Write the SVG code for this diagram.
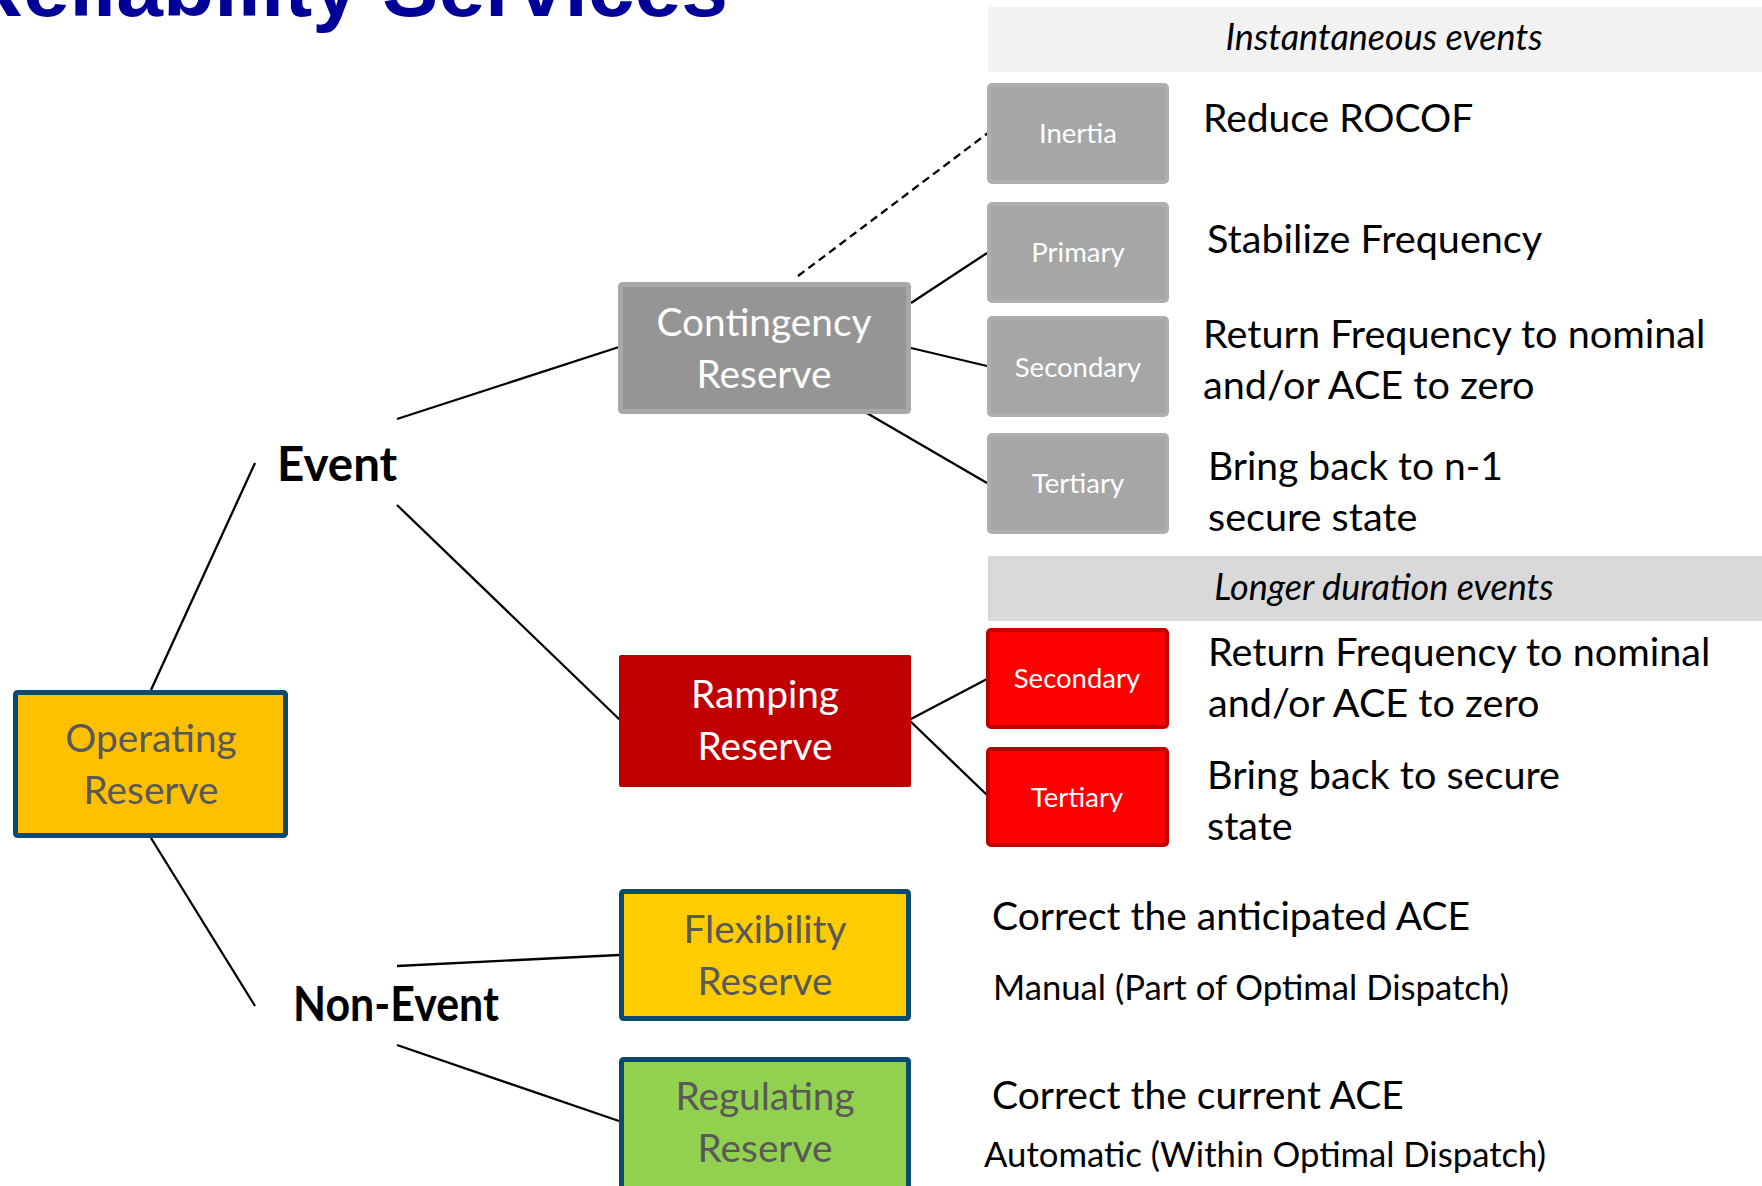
<svg xmlns="http://www.w3.org/2000/svg" width="1762" height="1186" viewBox="0 0 1762 1186">
<style>
.t{font-family:Lato,"Liberation Sans",sans-serif}
.title{font-family:"Liberation Sans",Arial,sans-serif;font-weight:bold;font-size:84px;fill:#000099}
.hdr{font-size:36px;font-style:italic;fill:#000;text-anchor:middle}
.desc{font-size:39.6px;fill:#000}
.desc2{font-size:39px;fill:#000}
.sub{font-size:34.7px;fill:#000}
.big{font-size:38.8px;text-anchor:middle}
.small{font-size:27.5px;fill:#fff;text-anchor:middle}
.lbl{font-size:47.5px;font-weight:bold;fill:#000}
.gbox{fill:#a6a6a6;stroke:#aeaeae;stroke-width:4}
.rbox{fill:#ff0000;stroke:#c00000;stroke-width:4}
.blue{stroke:#0b4a6f;stroke-width:5}
.con line{stroke:#000;stroke-width:2.3;fill:none}
</style>
<rect width="1762" height="1186" fill="#fff"/>
<text class="title" x="728" y="16" text-anchor="end">Reliability Services</text>

<g id="hdr-instant">
<rect x="988" y="7" width="774" height="65" fill="#f2f2f2"/>
<text class="t hdr" x="1384" y="50">Instantaneous events</text>
</g>
<g id="hdr-longer">
<rect x="988" y="556" width="774" height="65" fill="#d9d9d9"/>
<text class="t hdr" x="1384" y="600">Longer duration events</text>
</g>

<g class="con" id="connectors">
<line x1="151" y1="690" x2="255" y2="463"/>
<line x1="151" y1="838" x2="255" y2="1006"/>
<line x1="397" y1="419" x2="619" y2="347"/>
<line x1="397" y1="505" x2="620" y2="720"/>
<line x1="397" y1="966" x2="619" y2="955"/>
<line x1="397" y1="1045" x2="619" y2="1121"/>
<line x1="798" y1="276" x2="988" y2="133" stroke-dasharray="8 5"/>
<line x1="911" y1="303" x2="987" y2="253"/>
<line x1="911" y1="348" x2="987" y2="366"/>
<line x1="865" y1="412" x2="987" y2="483"/>
<line x1="909" y1="720" x2="987" y2="679"/>
<line x1="909" y1="720" x2="987" y2="795"/>
</g>

<g id="operating">
<rect class="blue" x="15.5" y="692.5" width="270" height="143" fill="#ffc000" rx="2"/>
<text class="t big" x="151" y="752" fill="#595959">Operating</text>
<text class="t big" x="151" y="804" fill="#595959">Reserve</text>
</g>

<g id="event"><text class="t lbl" x="277" y="481">Event</text></g>
<g id="nonevent"><text class="t lbl" x="293" y="1021" textLength="206" lengthAdjust="spacingAndGlyphs">Non-Event</text></g>

<g id="contingency">
<rect x="620.5" y="284.5" width="288" height="127" fill="#959595" stroke="#a8a8a8" stroke-width="5" rx="2"/>
<text class="t big" x="764" y="336" fill="#fff">Contingency</text>
<text class="t big" x="764" y="388" fill="#fff">Reserve</text>
</g>

<g id="ramping">
<rect x="619" y="655" width="292" height="132" fill="#c00000" rx="2"/>
<text class="t big" x="765" y="708" fill="#fff">Ramping</text>
<text class="t big" x="765" y="760" fill="#fff">Reserve</text>
</g>

<g id="flexibility">
<rect class="blue" x="621.5" y="891.5" width="287" height="127" fill="#ffcc00" rx="2"/>
<text class="t big" x="765" y="943" fill="#595959">Flexibility</text>
<text class="t big" x="765" y="995" fill="#595959">Reserve</text>
</g>

<g id="regulating">
<rect class="blue" x="621.5" y="1059.5" width="287" height="140" fill="#92d050" rx="2"/>
<text class="t big" x="765" y="1110" fill="#595959">Regulating</text>
<text class="t big" x="765" y="1162" fill="#595959">Reserve</text>
</g>

<g id="inertia">
<rect class="gbox" x="989" y="85" width="178" height="97" rx="3"/>
<text class="t small" x="1078" y="143">Inertia</text>
</g>
<g id="primary">
<rect class="gbox" x="989" y="204" width="178" height="97" rx="3"/>
<text class="t small" x="1078" y="262">Primary</text>
</g>
<g id="secondary-g">
<rect class="gbox" x="989" y="318" width="178" height="97" rx="3"/>
<text class="t small" x="1078" y="377">Secondary</text>
</g>
<g id="tertiary-g">
<rect class="gbox" x="989" y="435" width="178" height="97" rx="3"/>
<text class="t small" x="1078" y="493">Tertiary</text>
</g>
<g id="secondary-r">
<rect class="rbox" x="988" y="630" width="179" height="97" rx="3"/>
<text class="t small" x="1077" y="688">Secondary</text>
</g>
<g id="tertiary-r">
<rect class="rbox" x="988" y="749" width="179" height="96" rx="3"/>
<text class="t small" x="1077" y="807">Tertiary</text>
</g>

<g id="descriptions">
<text class="t desc2" x="1203" y="132">Reduce ROCOF</text>
<text class="t desc" x="1207" y="253">Stabilize Frequency</text>
<text class="t desc" x="1203" y="348">Return Frequency to nominal</text>
<text class="t desc" x="1203" y="399">and/or ACE to zero</text>
<text class="t desc2" x="1208" y="480">Bring back to n-1</text>
<text class="t desc" x="1208" y="531">secure state</text>
<text class="t desc" x="1208" y="666">Return Frequency to nominal</text>
<text class="t desc" x="1208" y="717">and/or ACE to zero</text>
<text class="t desc" x="1207" y="789">Bring back to secure</text>
<text class="t desc" x="1207" y="840">state</text>
<text class="t desc2" x="992" y="930">Correct the anticipated ACE</text>
<text class="t sub" x="993" y="1000">Manual (Part of Optimal Dispatch)</text>
<text class="t desc2" x="992" y="1109">Correct the current ACE</text>
<text class="t sub" x="984" y="1167">Automatic (Within Optimal Dispatch)</text>
</g>
</svg>
